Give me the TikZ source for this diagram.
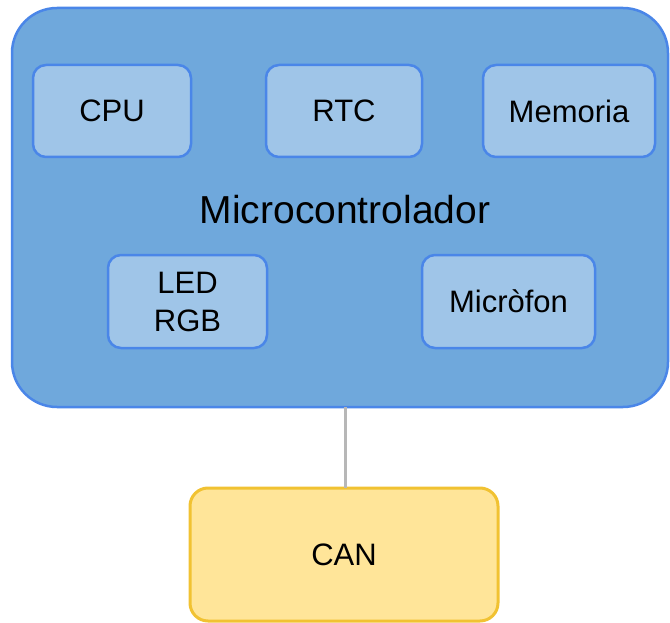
\documentclass[tikz,border=0pt]{standalone}
\usepackage{fontspec}
\setmainfont{Liberation Sans}
\definecolor{mainfill}{HTML}{6FA8DC}
\definecolor{bluedge}{HTML}{4A86E8}
\definecolor{subfill}{HTML}{9FC5E8}
\definecolor{canfill}{HTML}{FFE599}
\definecolor{canedge}{HTML}{F1C232}
\definecolor{linkgray}{HTML}{B7B7B7}
\begin{document}
\begin{tikzpicture}[x=1pt,y=-1pt,
  mainbox/.style={draw=bluedge,fill=mainfill,line width=2.5pt,rounded corners=45pt},
  subbox/.style={draw=bluedge,fill=subfill,line width=2.5pt,rounded corners=13pt,
    font=\fontsize{31}{38}\selectfont,align=center},
  canbox/.style={draw=canedge,fill=canfill,line width=3pt,rounded corners=18pt,
    font=\fontsize{31}{38}\selectfont},
  link/.style={draw=linkgray,line width=3pt}]
\useasboundingbox (0,0) rectangle (670,623);
\path[mainbox] (12,8) rectangle (668,407);
\coordinate (mcbot) at (345,407);
\node[font=\fontsize{39}{46}\selectfont] (mc) at (345,210) {Microcontrolador};
\path[subbox] (33,65) rectangle (191,157);
\node[font=\fontsize{31}{38}\selectfont] (cpu) at (112,111) {CPU};
\path[subbox] (266,65) rectangle (422,157);
\node[font=\fontsize{31}{38}\selectfont] (rtc) at (344,111) {RTC};
\path[subbox] (483,65) rectangle (655,157);
\node[font=\fontsize{31}{38}\selectfont] (mem) at (569,111) {Memoria};
\path[subbox] (108,255) rectangle (267,348);
\node[font=\fontsize{31}{38}\selectfont,align=center] (led) at (187.5,301.5) {LED\\RGB};
\path[subbox] (422,255) rectangle (595,348);
\node[font=\fontsize{31}{38}\selectfont] (mic) at (508.5,301.5) {Micròfon};
\path[canbox] (190,488) rectangle (498,621);
\coordinate (cantop) at (345,488);
\node[font=\fontsize{31}{38}\selectfont] (can) at (344,554.5) {CAN};
\draw[link] (mcbot) -- (cantop);
\end{tikzpicture}
\end{document}
